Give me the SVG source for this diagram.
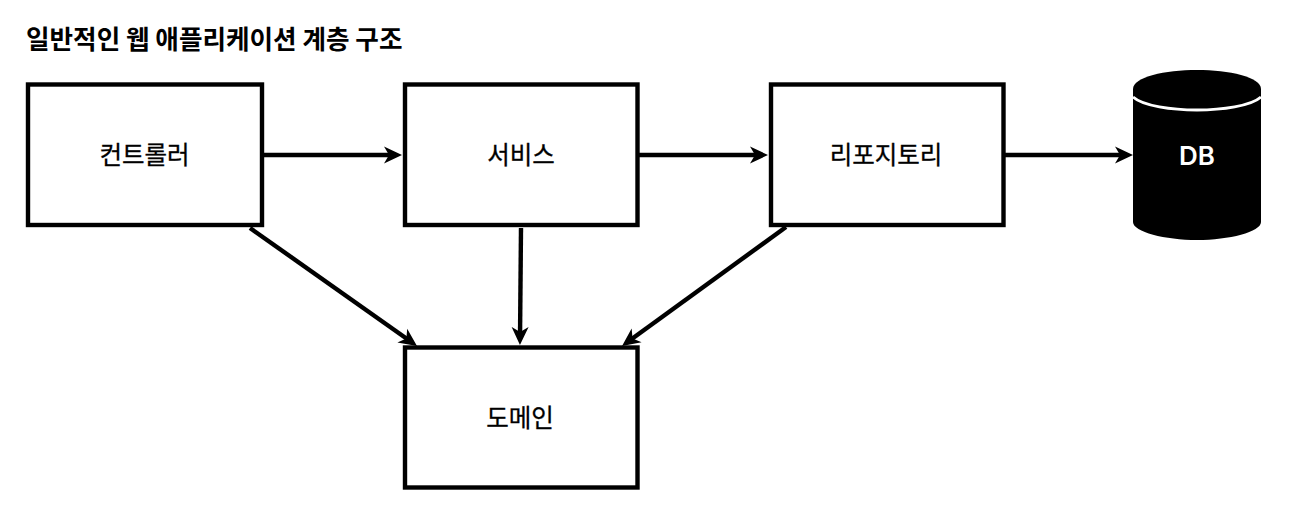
<svg xmlns="http://www.w3.org/2000/svg" width="1302" height="510" viewBox="0 0 1302 510">
<style>
.box{fill:#fff;stroke:#000;stroke-width:4.400}
.lbl{font-family:"Noto Sans CJK KR","Liberation Sans",sans-serif;font-size:24.500px;font-weight:400;text-anchor:middle;fill:#000;stroke:#000;stroke-width:.3}
.conn{fill:none;stroke:#000;stroke-width:4.400}
</style>
<defs>
<marker id="arr" markerUnits="userSpaceOnUse" markerWidth="20" markerHeight="20" refX="12" refY="10" orient="auto">
<path d="M0 1.500L18 10L0 18.500L5 10Z" fill="#000"/>
</marker>
</defs>
<rect width="1302" height="510" fill="#fff"/>
<text id="title" x="26" y="48.500" font-family="'Noto Sans CJK KR','Liberation Sans',sans-serif" font-size="25.600" font-weight="700" fill="#000">일반적인 웹 애플리케이션 계층 구조</text>
<g id="connectors">
<path class="conn" d="M264 155H396" marker-end="url(#arr)"/>
<path class="conn" d="M639 155H762" marker-end="url(#arr)"/>
<path class="conn" d="M1005 155H1127" marker-end="url(#arr)"/>
<path class="conn" d="M250 228L412.100 342.500" marker-end="url(#arr)"/>
<path class="conn" d="M521 228L520 339" marker-end="url(#arr)"/>
<path class="conn" d="M786 227L626.900 342.500" marker-end="url(#arr)"/>
</g>
<g id="controller"><rect class="box" x="28" y="84.500" width="234" height="140.500"/><text class="lbl" x="144.500" y="163.500">컨트롤러</text></g>
<g id="service"><rect class="box" x="405" y="84.500" width="232.500" height="140.500"/><text class="lbl" x="521" y="163.500">서비스</text></g>
<g id="repository"><rect class="box" x="771" y="84.500" width="232.500" height="140.500"/><text class="lbl" x="886" y="163.500">리포지토리</text></g>
<g id="domain"><rect class="box" x="405" y="347.500" width="232.500" height="140"/><text class="lbl" x="520" y="426.500">도메인</text></g>
<g id="db">
<path d="M1133 89C1133 77 1165 70 1197 70C1229 70 1261 77 1261 89V222C1261 232 1229 240 1197 240C1165 240 1133 232 1133 222Z" fill="#000"/>
<path d="M1133 97C1143 106 1172 110 1197 110C1222 110 1251 106 1261 97" fill="none" stroke="#fff" stroke-width="3"/>
<text x="1197" y="165" font-family="Inter,'Liberation Sans',sans-serif" font-size="26" font-weight="600" text-anchor="middle" fill="#fff">DB</text>
</g>
</svg>
